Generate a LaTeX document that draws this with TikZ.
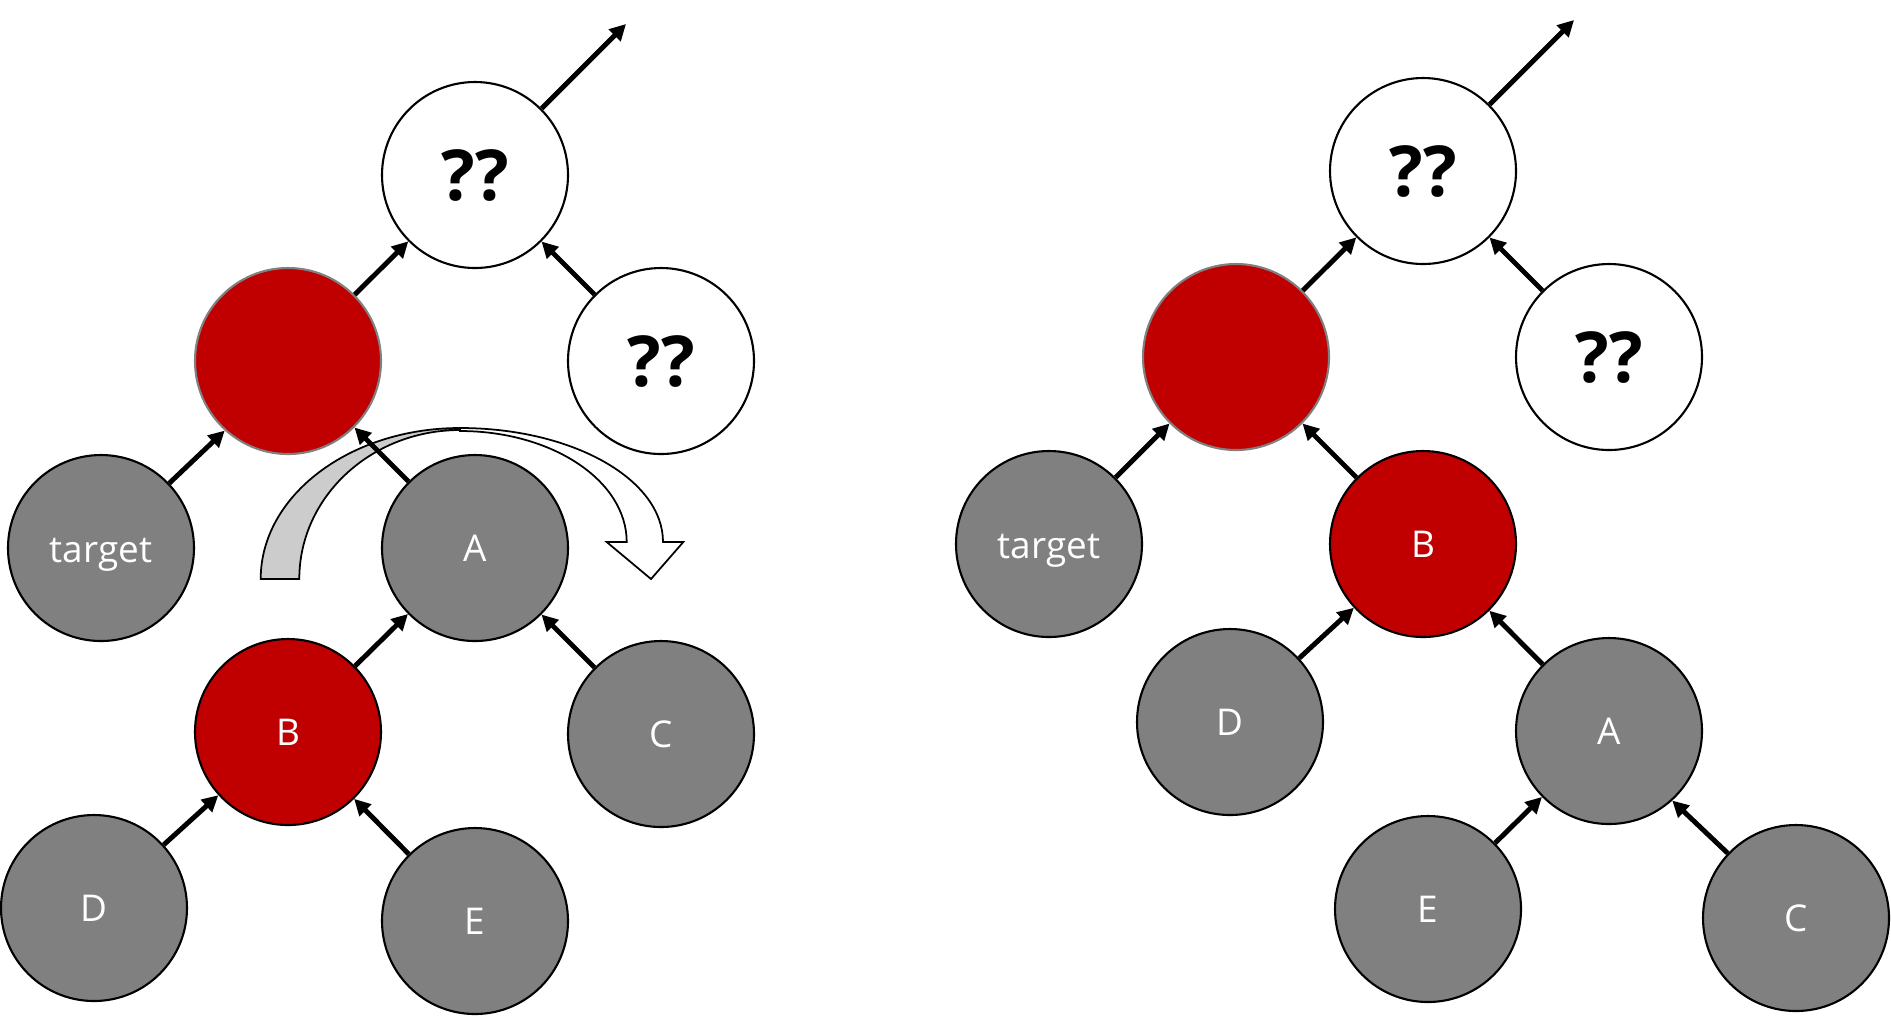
\documentclass[tikz,border=0pt]{standalone}
\usepackage{fontspec}
\setmainfont{Open Sans}
\usetikzlibrary{arrows.meta}
\definecolor{nodered}{HTML}{C00000}
\definecolor{nodegray}{HTML}{808080}
\definecolor{bandgray}{HTML}{CCCCCC}

\begin{document}
\begin{tikzpicture}
    \useasboundingbox (0,0) rectangle (18.91,-10.15);
    \tikzstyle{every node}=[circle, fill=nodegray, draw=black, line width=0.6pt, inner sep=0pt, minimum size=1.86cm, font=\fontsize{10.5}{12}\selectfont, text=white]
    \tikzstyle{qnode}=[fill=white, text=black, font=\bfseries\fontsize{20}{24}\selectfont]
    \tikzstyle{rnode}=[fill=nodered]
    \tikzstyle{tnode}=[text height=8pt, text depth=0pt]
    \tikzstyle{edge}=[black, line width=1.4pt, -{Triangle[length=4.6pt,width=4.6pt]}]

    % curved arrow of the rotation
    \filldraw[fill=bandgray, line width=0.5pt] (2.607,-5.79) arc[start angle=180, end angle=90, x radius=1.993cm, y radius=1.51cm] -- (4.60,-4.30) arc[start angle=90, end angle=180, x radius=1.607cm, y radius=1.49cm] -- cycle;
    \filldraw[fill=white, line width=0.5pt] (4.60,-4.28) arc[start angle=90, end angle=0, x radius=2.03cm, y radius=1.14cm] -- (6.833,-5.42) -- (6.51,-5.79) -- (6.067,-5.42) -- (6.267,-5.42) arc[start angle=0, end angle=90, x radius=1.667cm, y radius=1.11cm] -- cycle;

    % before
    \node[qnode] (q1) at (4.75,-1.75) {??};
    \node[qnode] (qq1) at (6.61,-3.61) {??};
    \node[rnode, draw=nodegray] (p1) at (2.88,-3.61) {};
    \node[tnode] (t1) at (1.01,-5.48) {target};
    \node (a1) at (4.75,-5.48) {A};
    \node[rnode] (b1) at (2.88,-7.32) {B};
    \node (c1) at (6.61,-7.34) {C};
    \node (d1) at (0.94,-9.08) {D};
    \node (e1) at (4.75,-9.21) {E};
    \coordinate (up1) at (6.26,-0.24);

    \draw[edge] (q1) -- (up1);
    \draw[edge] (p1) -- (q1);
    \draw[edge] (qq1) -- (q1);
    \draw[edge] (t1) -- (p1);
    \draw[edge] (a1) -- (p1);
    \draw[edge] (b1) -- (a1);
    \draw[edge] (c1) -- (a1);
    \draw[edge] (d1) -- (b1);
    \draw[edge] (e1) -- (b1);

    % after
    \node[qnode] (q2) at (14.23,-1.71) {??};
    \node[qnode] (qq2) at (16.09,-3.57) {??};
    \node[rnode, draw=nodegray] (p2) at (12.36,-3.57) {};
    \node[tnode] (t2) at (10.49,-5.44) {target};
    \node[rnode] (b2) at (14.23,-5.44) {B};
    \node (d2) at (12.30,-7.22) {D};
    \node (a2) at (16.09,-7.31) {A};
    \node (e2) at (14.28,-9.09) {E};
    \node (c2) at (17.96,-9.18) {C};
    \coordinate (up2) at (15.74,-0.20);

    \draw[edge] (q2) -- (up2);
    \draw[edge] (p2) -- (q2);
    \draw[edge] (qq2) -- (q2);
    \draw[edge] (t2) -- (p2);
    \draw[edge] (b2) -- (p2);
    \draw[edge] (d2) -- (b2);
    \draw[edge] (a2) -- (b2);
    \draw[edge] (e2) -- (a2);
    \draw[edge] (c2) -- (a2);
\end{tikzpicture}
\end{document}
